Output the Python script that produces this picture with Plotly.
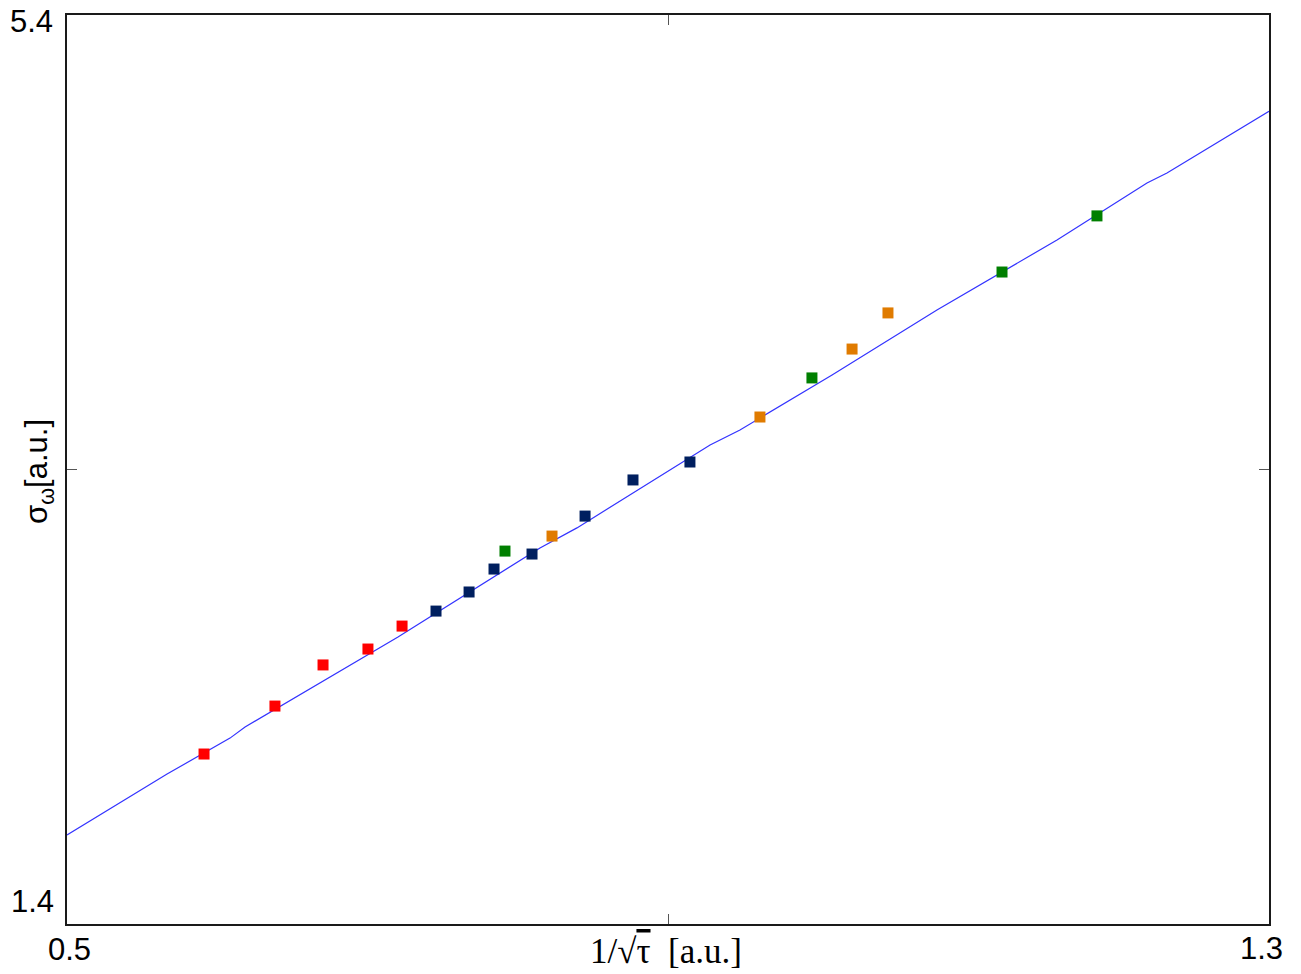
import plotly.graph_objects as go

# Fit line
line_x = [0.5, 0.5666, 0.6085, 0.6185, 0.7203, 0.8148, 0.8394, 0.8694, 0.9280, 0.9479,
          1.0092, 1.0790, 1.1589, 1.2188, 1.2321, 1.3]
line_y = [1.792, 2.060, 2.218, 2.267, 2.663, 3.055, 3.143, 3.266, 3.508, 3.574,
          3.816, 4.102, 4.410, 4.661, 4.705, 4.976]

red_x = [0.5912, 0.6384, 0.6704, 0.7003, 0.7230]
red_y = [2.148, 2.359, 2.540, 2.610, 2.711]

navy_x = [0.7456, 0.7676, 0.7842, 0.8095, 0.8448, 0.8767, 0.9146]
navy_y = [2.777, 2.861, 2.962, 3.028, 3.195, 3.354, 3.433]

orange_x = [0.8228, 0.9612, 1.0225, 1.0464]
orange_y = [3.107, 3.631, 3.930, 4.089]

green_x = [0.7915, 0.9958, 1.1223, 1.1855]
green_y = [3.041, 3.803, 4.269, 4.516]

x_range = [0.5, 1.3]
y_range = [1.4, 5.4]
x_mid_tick = [0.9]
y_mid_tick = [3.4]

fig = go.Figure()
fig.add_trace(go.Scatter(x=line_x, y=line_y, mode="lines",
                         line=dict(color="#3333ff", width=1.2), showlegend=False))
for xs, ys, col in [(red_x, red_y, "#ff0000"), (navy_x, navy_y, "#001f5f"),
                    (orange_x, orange_y, "#e07b00"), (green_x, green_y, "#007f00")]:
    fig.add_trace(go.Scatter(x=xs, y=ys, mode="markers",
                             marker=dict(symbol="square", size=11, color=col, line=dict(width=0)),
                             showlegend=False))

L, R, T, B = 67, 32, 15, 50
W, H = 1301, 974
pw, ph = W - L - R, H - T - B

def px(xp):
    return (xp - L) / pw

def py(yp):
    return (H - B - yp) / ph

font_sans = dict(family="Liberation Sans, Arial, sans-serif", size=31, color="black")
ann = []
ann.append(dict(text="5.4", x=px(31), y=py(22), xref="paper", yref="paper", showarrow=False, font=font_sans, xanchor="center", yanchor="middle"))
ann.append(dict(text="1.4", x=px(32), y=py(901), xref="paper", yref="paper", showarrow=False, font=font_sans, xanchor="center", yanchor="middle"))
ann.append(dict(text="0.5", x=px(69), y=py(949), xref="paper", yref="paper", showarrow=False, font=font_sans, xanchor="center", yanchor="middle"))
ann.append(dict(text="1.3", x=px(1261), y=py(948), xref="paper", yref="paper", showarrow=False, font=font_sans, xanchor="center", yanchor="middle"))
ann.append(dict(text="σ<sub>ω</sub>[a.u.]", x=px(39), y=py(472), xref="paper", yref="paper", showarrow=False,
                font=dict(family="Liberation Sans, Arial, sans-serif", size=31, color="black"),
                textangle=-90, xanchor="center", yanchor="middle"))
ann.append(dict(text="1/√<span style='text-decoration:overline'>τ</span>  [a.u.]", x=px(666), y=py(951), xref="paper", yref="paper", showarrow=False,
                font=dict(family="Liberation Serif, Times New Roman, serif", size=35, color="black"),
                xanchor="center", yanchor="middle"))

fig.update_layout(
    width=W, height=H, autosize=False,
    margin=dict(l=L, r=R, t=T, b=B),
    paper_bgcolor="white", plot_bgcolor="white",
    annotations=ann,
    xaxis=dict(range=x_range, showgrid=False, zeroline=False, showline=True, linecolor="#1a1a1a",
               linewidth=2, mirror="ticks", ticks="inside", ticklen=10, tickcolor="#555555", tickwidth=1,
               tickvals=x_mid_tick, showticklabels=False),
    yaxis=dict(range=y_range, showgrid=False, zeroline=False, showline=True, linecolor="#1a1a1a",
               linewidth=2, mirror="ticks", ticks="inside", ticklen=10, tickcolor="#555555", tickwidth=1,
               tickvals=y_mid_tick, showticklabels=False),
)

fig.write_html("out.html")
